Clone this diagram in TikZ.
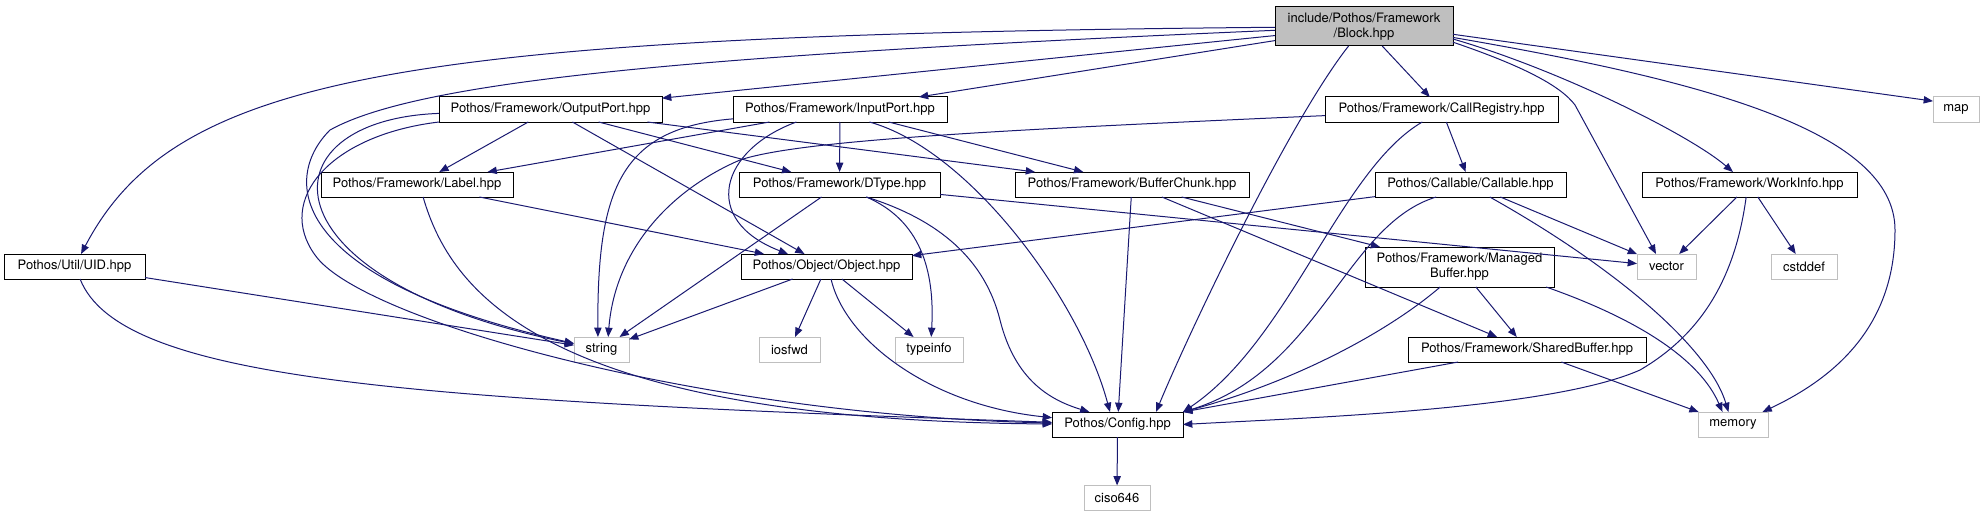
\documentclass[tikz,border=0pt]{standalone}
\usepackage{fontspec}
\setmainfont{TeX Gyre Heros}
\usetikzlibrary{arrows.meta}
\definecolor{edgeblue}{HTML}{191970}
\definecolor{sysgray}{HTML}{BFBFBF}

\begin{document}
\begin{tikzpicture}[
x=0.75pt,y=-0.75pt,
filebox/.style={draw,fill=white,line width=0.75pt,inner sep=0pt,outer sep=0pt,minimum height=18.75pt,align=center,font=\fontsize{9.75}{11.5}\selectfont},
hdr/.style={filebox,draw=black},
sys/.style={filebox,draw=sysgray},
root/.style={filebox,draw=black,fill=sysgray,minimum height=29.25pt},
incl/.style={-{Triangle[length=7pt,width=5.5pt]},draw=edgeblue,line width=0.75pt}
]
\useasboundingbox (0,0) rectangle (1984,517);
% files
\node[root,minimum width=133.5pt] (block) at (1364,26.5) {include/Pothos/Framework\\/Block.hpp};
\node[hdr,minimum width=167.25pt] (outport) at (550.5,109.5) {Pothos/Framework/OutputPort.hpp};
\node[hdr,minimum width=160.5pt] (inport) at (840,109.5) {Pothos/Framework/InputPort.hpp};
\node[hdr,minimum width=174.75pt] (callreg) at (1441.5,109.5) {Pothos/Framework/CallRegistry.hpp};
\node[sys,minimum width=34.5pt] (map) at (1956,109.5) {map};
\node[hdr,minimum width=144pt] (label) at (417,184.5) {Pothos/Framework/Label.hpp};
\node[hdr,minimum width=150.75pt] (dtype) at (839.5,184.5) {Pothos/Framework/DType.hpp};
\node[hdr,minimum width=175.5pt] (bufchunk) at (1132,184.5) {Pothos/Framework/BufferChunk.hpp};
\node[hdr,minimum width=143.25pt] (callable) at (1470.5,184.5) {Pothos/Callable/Callable.hpp};
\node[hdr,minimum width=161.25pt] (workinfo) at (1749.5,184.5) {Pothos/Framework/WorkInfo.hpp};
\node[hdr,minimum width=105.75pt] (uid) at (74.5,266.5) {Pothos/Util/UID.hpp};
\node[hdr,minimum width=128.25pt] (object) at (826.5,266.5) {Pothos/Object/Object.hpp};
\node[hdr,minimum width=141.75pt,minimum height=30pt] (managed) at (1459.5,267) {Pothos/Framework/Managed\\Buffer.hpp};
\node[sys,minimum width=44.25pt] (vector) at (1666.5,266.5) {vector};
\node[sys,minimum width=49.5pt] (cstddef) at (1804,266.5) {cstddef};
\node[sys,minimum width=41.25pt] (string) at (601.5,349.5) {string};
\node[sys,minimum width=45.75pt] (iosfwd) at (789.5,349.5) {iosfwd};
\node[sys,minimum width=51pt] (typeinfo) at (929,349.5) {typeinfo};
\node[hdr,minimum width=178.5pt] (shared) at (1527,349.5) {Pothos/Framework/SharedBuffer.hpp};
\node[hdr,minimum width=98.25pt] (config) at (1117.5,424.5) {Pothos/Config.hpp};
\node[sys,minimum width=52.5pt] (memory) at (1733,424.5) {memory};
\node[sys,minimum width=49.5pt] (ciso) at (1117,498) {ciso646};
% Block.hpp
\draw[incl] (block) .. controls (400,35) and (175,75) .. (uid);
\draw[incl] (block) .. controls (700,55) and (420,80) .. (330,130) .. controls (280,180) and (290,280) .. (string);
\draw[incl] (block) -- (outport);
\draw[incl] (block) -- (inport);
\draw[incl] (block) .. controls (1290,120) and (1190,330) .. (config.18);
\draw[incl] (block) -- (callreg);
\draw[incl] (block.-10) .. controls (1520,65) and (1560,85) .. (1575,105) -- (vector.130);
\draw[incl] (block.-8) .. controls (1560,70) and (1690,135) .. (workinfo.143);
\draw[incl] (block.-5) -- (map.160);
\draw[incl] (block.-7) .. controls (1700,80) and (1895,130) .. (1895,230) .. controls (1895,330) and (1830,380) .. (memory.23);
% OutputPort.hpp
\draw[incl] (outport) -- (label);
\draw[incl] (outport) -- (object);
\draw[incl] (outport) -- (dtype);
\draw[incl] (outport) -- (bufchunk);
\draw[incl] (outport.-178) .. controls (260,120) and (260,280) .. (string);
\draw[incl] (outport.south west) .. controls (330,135) and (275,200) .. (315,255) .. controls (360,320) and (700,415) .. (config);
% InputPort.hpp
\draw[incl] (inport) -- (label);
\draw[incl] (inport) -- (dtype);
\draw[incl] (inport) -- (bufchunk);
\draw[incl] (inport.-164) .. controls (720,150) and (700,220) .. (object.162);
\draw[incl] (inport.-175) .. controls (620,128) and (597,190) .. (string.106);
\draw[incl] (inport.-23) .. controls (970,150) and (1080,300) .. (config.121);
% Label.hpp
\draw[incl] (label) -- (object);
\draw[incl] (label.-64) .. controls (450,290) and (540,420) .. (config);
% DType.hpp
\draw[incl] (dtype) -- (string);
\draw[incl] (dtype.-25) .. controls (920,220) and (935,270) .. (typeinfo.80);
\draw[incl] (dtype.-25) .. controls (940,220) and (985,260) .. (1000,320) .. controls (1015,380) and (1050,400) .. (config.156);
\draw[incl] (dtype) -- (vector);
% BufferChunk.hpp
\draw[incl] (bufchunk) -- (config);
\draw[incl] (bufchunk) -- (shared);
\draw[incl] (bufchunk) -- (managed);
% CallRegistry.hpp
\draw[incl] (callreg.-177) .. controls (1000,130) and (800,140) .. (740,160) .. controls (670,190) and (615,250) .. (string.62);
\draw[incl] (callreg) -- (callable);
\draw[incl] (callreg.-147) .. controls (1340,170) and (1290,340) .. (config.north east);
% Callable.hpp
\draw[incl] (callable) -- (object);
\draw[incl] (callable.-160) .. controls (1345,225) and (1320,370) .. (config.north east);
\draw[incl] (callable) -- (vector);
\draw[incl] (callable.-33) .. controls (1620,270) and (1710,350) .. (memory.110);
% WorkInfo.hpp
\draw[incl] (workinfo) -- (vector);
\draw[incl] (workinfo) -- (cstddef);
\draw[incl] (workinfo.-105) .. controls (1735,280) and (1700,335) .. (1640,370) .. controls (1550,410) and (1300,418) .. (config.east);
% UID.hpp
\draw[incl] (uid) -- (string);
\draw[incl] (uid.-66) .. controls (120,380) and (400,400) .. (config);
% Object.hpp
\draw[incl] (object) -- (string);
\draw[incl] (object) -- (iosfwd);
\draw[incl] (object) -- (typeinfo);
\draw[incl] (object.-70) .. controls (845,340) and (930,405) .. (config);
% ManagedBuffer.hpp
\draw[incl] (managed) -- (shared);
\draw[incl] (managed.-134) .. controls (1390,330) and (1300,380) .. (config.north east);
\draw[incl] (managed.-13) .. controls (1640,320) and (1700,360) .. (memory.130);
% SharedBuffer.hpp
\draw[incl] (shared) -- (config.north east);
\draw[incl] (shared) -- (memory);
% Config.hpp
\draw[incl] (config) -- (ciso);
\end{tikzpicture}
\end{document}
